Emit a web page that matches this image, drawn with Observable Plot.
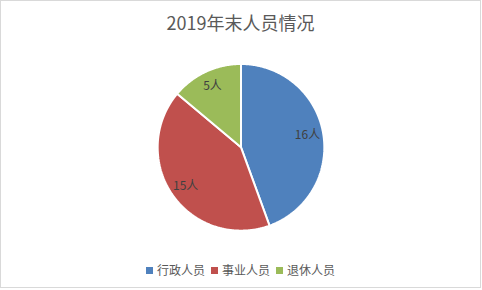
<!DOCTYPE html>
<html>
<head>
<meta charset="utf-8">
<script src="https://cdn.jsdelivr.net/npm/d3@7"></script>
<script src="https://cdn.jsdelivr.net/npm/@observablehq/plot@0.6"></script>
<style>
  html, body { margin: 0; padding: 0; background: #fff; }
  #frame { position: relative; width: 479px; height: 286px; border: 1px solid #d9d9d9; background: #fff; overflow: hidden;
           font-family: "Noto Sans CJK SC", "Noto Sans", sans-serif; }
  #title { position: absolute; left: 0; right: 0; top: 9px; text-align: center; font-size: 18px; color: #595959; line-height: 24px; }
  #chart { position: absolute; left: 0; top: 56px; }
  #legend { position: absolute; left: 0; right: 0; top: 261px; display: flex; justify-content: center; font-size: 12px; color: #595959; line-height: 16px; }
  .item { display: flex; align-items: center; margin: 0 3px; }
  .sw { width: 7px; height: 7px; margin-right: 4px; }
</style>
</head>
<body>
<div id="frame">
  <div id="title"></div>
  <div id="chart"></div>
  <div id="legend"></div>
</div>
<script>
const title = "2019年末人员情况";
const categories = ["行政人员", "事业人员", "退休人员"];
const values = [16, 15, 5];
const labels = ["16人", "15人", "5人"];
const colors = ["#4F81BD", "#C0504D", "#9BBB59"];

document.getElementById("title").textContent = title;

const data = categories.map((c, i) => ({name: c, value: values[i], label: labels[i]}));
const arcs = d3.pie().sort(null).value(d => d.value)(data);

// polygon outline of each slice in unit coordinates (angle 0 at top, clockwise)
const poly = [];
arcs.forEach(a => {
  poly.push({name: a.data.name, x: 0, y: 0});
  const n = Math.max(2, Math.ceil((a.endAngle - a.startAngle) / (Math.PI / 360)));
  for (let k = 0; k <= n; k++) {
    const t = a.startAngle + (a.endAngle - a.startAngle) * k / n;
    poly.push({name: a.data.name, x: Math.sin(t), y: Math.cos(t)});
  }
});
const labelPts = arcs.map(a => {
  const m = (a.startAngle + a.endAngle) / 2;
  return {label: a.data.label, x: 0.81 * Math.sin(m), y: 0.81 * Math.cos(m)};
});

const W = 480, H = 180, R = 83.5;
const chart = Plot.plot({
  width: W,
  height: H,
  marginTop: H / 2 - R,
  marginBottom: H / 2 - R,
  marginLeft: W / 2 - R,
  marginRight: W / 2 - R,
  x: {domain: [-1, 1], axis: null},
  y: {domain: [-1, 1], axis: null},
  color: {domain: categories, range: colors},
  style: {fontFamily: '"Noto Sans CJK SC", "Noto Sans", sans-serif', background: "transparent", overflow: "visible"},
  marks: [
    Plot.line(poly, {x: "x", y: "y", z: "name", fill: "name", stroke: "white", strokeWidth: 2, curve: "linear-closed", strokeLinejoin: "miter"}),
    Plot.text(labelPts, {x: "x", y: "y", text: "label", fill: "#404040", fontSize: 12})
  ]
});
document.getElementById("chart").appendChild(chart);

const legend = document.getElementById("legend");
categories.forEach((c, i) => {
  const it = document.createElement("div");
  it.className = "item";
  const sw = document.createElement("div");
  sw.className = "sw";
  sw.style.background = colors[i];
  const tx = document.createElement("span");
  tx.textContent = c;
  it.appendChild(sw);
  it.appendChild(tx);
  legend.appendChild(it);
});
</script>
</body>
</html>
